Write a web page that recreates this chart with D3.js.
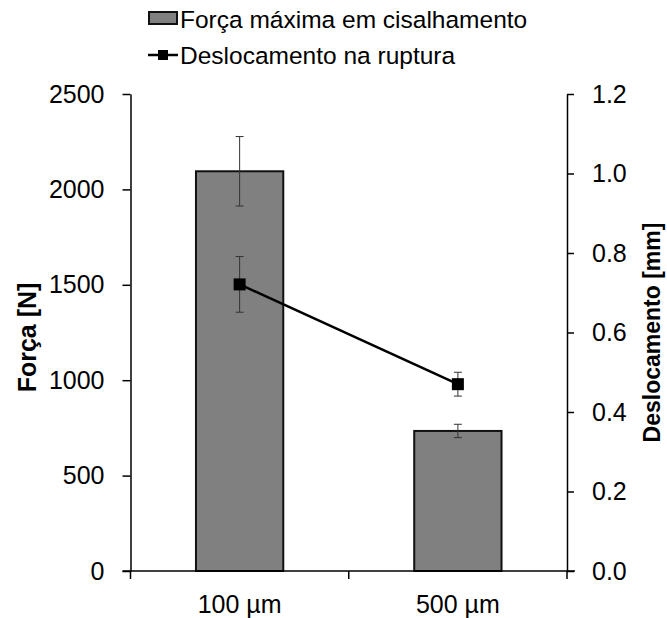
<!DOCTYPE html>
<html>
<head>
<meta charset="utf-8">
<script src="https://cdn.jsdelivr.net/npm/d3@7"></script>
<style>
  body { margin: 0; background: #fff; }
  svg { display: block; font-family: "Liberation Sans", Arial, sans-serif; }
</style>
</head>
<body>
<svg id="chart" width="667" height="618"></svg>
<script>
const categories = ["100 µm", "500 µm"];
const forceValues = [2095, 734];
const forceErrors = [182, 35];
const dispValues = [0.721, 0.470];
const dispErrors = [0.070, 0.030];
const leftTicks = [0, 500, 1000, 1500, 2000, 2500];
const rightTicks = [0, 0.2, 0.4, 0.6, 0.8, 1.0, 1.2];
const seriesNames = ["Força máxima em cisalhamento", "Deslocamento na ruptura"];
const axisTitles = ["Força [N]", "Deslocamento [mm]"];

const svg = d3.select("#chart");
const L = 130.5, R = 567, T = 94, B = 571;
const FS = 25;

const x = d3.scaleBand().domain(categories).range([L, R]).paddingInner(0.6).paddingOuter(0.3);
const yL = d3.scaleLinear().domain([0, 2500]).range([B, T]);
const yR = d3.scaleLinear().domain([0, 1.2]).range([B, T]);

// bars
svg.append("g").selectAll("rect").data(categories).join("rect")
  .attr("x", d => x(d))
  .attr("y", (d, i) => yL(forceValues[i]))
  .attr("width", x.bandwidth())
  .attr("height", (d, i) => B - yL(forceValues[i]))
  .attr("fill", "#808080")
  .attr("stroke", "#111")
  .attr("stroke-width", 2);

function errBars(vals, errs, scale) {
  const g = svg.append("g").attr("stroke", "#333").attr("stroke-width", 1);
  categories.forEach((c, i) => {
    const cx = x(c) + x.bandwidth() / 2;
    const y1 = scale(vals[i] + errs[i]), y2 = scale(vals[i] - errs[i]);
    g.append("line").attr("x1", cx).attr("x2", cx).attr("y1", y1).attr("y2", y2);
    g.append("line").attr("x1", cx - 4).attr("x2", cx + 4).attr("y1", y1).attr("y2", y1);
    g.append("line").attr("x1", cx - 4).attr("x2", cx + 4).attr("y1", y2).attr("y2", y2);
  });
}
errBars(forceValues, forceErrors, yL);
errBars(dispValues, dispErrors, yR);

// line
const line = d3.line().x((d, i) => x(categories[i]) + x.bandwidth() / 2).y(d => yR(d));
svg.append("path").datum(dispValues).attr("d", line)
  .attr("fill", "none").attr("stroke", "#000").attr("stroke-width", 2.5);
svg.append("g").selectAll("rect").data(dispValues).join("rect")
  .attr("x", (d, i) => x(categories[i]) + x.bandwidth() / 2 - 6)
  .attr("y", d => yR(d) - 6)
  .attr("width", 12).attr("height", 12).attr("fill", "#000");

// axes
function styleAxis(g) {
  g.attr("font-size", FS).attr("font-family", "'Liberation Sans', Arial, sans-serif");
  g.selectAll("path").attr("stroke", "#000").attr("stroke-width", 1.5);
  g.selectAll("line").attr("stroke", "#000").attr("stroke-width", 1.5);
  g.selectAll("text").attr("font-size", FS).attr("fill", "#000");
}
const axL = svg.append("g").attr("transform", `translate(${L},0)`)
  .call(d3.axisLeft(yL).tickValues(leftTicks).tickFormat(d3.format("d")).tickSize(8).tickPadding(18).tickSizeOuter(0));
styleAxis(axL);
const axR = svg.append("g").attr("transform", `translate(${R},0)`)
  .call(d3.axisRight(yR).tickValues(rightTicks).tickFormat(d3.format(".1f")).tickSize(7).tickPadding(18).tickSizeOuter(0));
styleAxis(axR);

// x axis: line with ticks at band boundaries
const xa = svg.append("g");
xa.append("line").attr("x1", L - 8).attr("x2", R + 8).attr("y1", B).attr("y2", B)
  .attr("stroke", "#000").attr("stroke-width", 1.5);
const bounds = [L, (L + R) / 2, R];
xa.selectAll("line.t").data(bounds).join("line").attr("class", "t")
  .attr("x1", d => d).attr("x2", d => d).attr("y1", B).attr("y2", B + 8)
  .attr("stroke", "#000").attr("stroke-width", 1.5);
xa.selectAll("text").data(categories).join("text")
  .attr("x", d => x(d) + x.bandwidth() / 2).attr("y", 613)
  .attr("text-anchor", "middle").attr("font-size", FS).text(d => d);

// axis titles
svg.append("text").attr("transform", `translate(36,${(T + B) / 2 + 5}) rotate(-90)`)
  .attr("text-anchor", "middle").attr("font-size", FS).attr("font-weight", "bold").text(axisTitles[0]);
svg.append("text").attr("transform", `translate(660,${(T + B) / 2}) rotate(-90)`)
  .attr("text-anchor", "middle").attr("font-size", 23).attr("font-weight", "bold").text(axisTitles[1]);

// legend
const lg = svg.append("g");
lg.append("rect").attr("x", 149).attr("y", 12).attr("width", 28).attr("height", 12)
  .attr("fill", "#808080").attr("stroke", "#111").attr("stroke-width", 2);
lg.append("text").attr("x", 180).attr("y", 28).attr("font-size", 24.5).text(seriesNames[0]);
lg.append("line").attr("x1", 148).attr("x2", 178).attr("y1", 55).attr("y2", 55)
  .attr("stroke", "#000").attr("stroke-width", 2.5);
lg.append("rect").attr("x", 158).attr("y", 50).attr("width", 10).attr("height", 10).attr("fill", "#000");
lg.append("text").attr("x", 180).attr("y", 64).attr("font-size", 24.5).text(seriesNames[1]);
</script>
</body>
</html>
